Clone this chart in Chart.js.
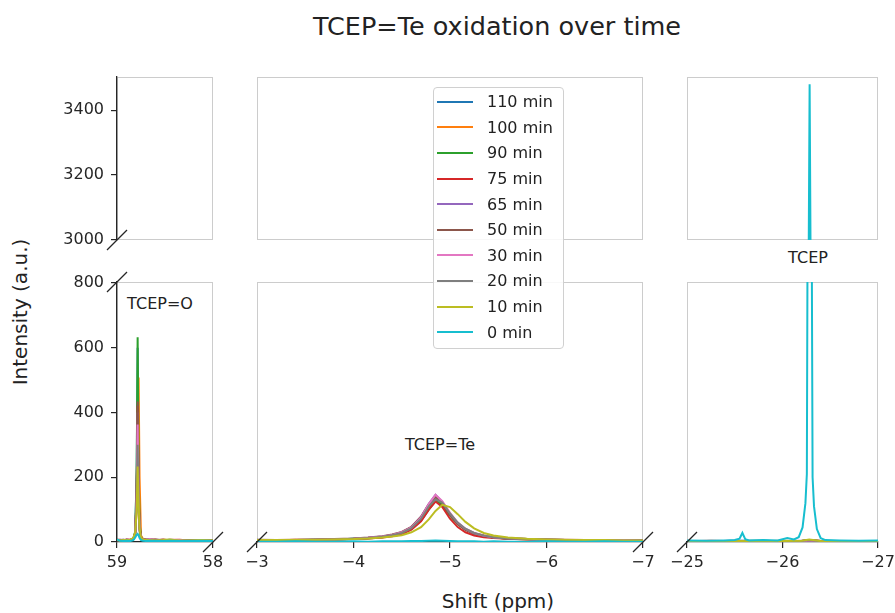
<!DOCTYPE html>
<html>
<head>
<meta charset="utf-8">
<script src="https://cdn.jsdelivr.net/npm/chart.js@4.4.1/dist/chart.umd.min.js"></script>
<style>
  body { margin: 0; background: #fff; font-family: 'DejaVu Sans', sans-serif; color: #222; }
  #wrap { position: relative; width: 895px; height: 613px; overflow: hidden; }
  .panel { position: absolute; }
  .txt { position: absolute; transform: translate(-50%, -50%); white-space: nowrap; line-height: 1; }
  #legend { position: absolute; left: 433px; top: 87px; width: 129px; height: 259px; border: 1px solid #d0d0d0;
            border-radius: 4px; background: rgba(255,255,255,0.85); z-index: 10; padding-top: 1px; box-sizing: content-box; }
  .row { display: flex; align-items: center; height: 25.6px; font-size: 16px; }
  .swatch { width: 36px; height: 2px; margin-left: 3px; margin-right: 14px; }
</style>
</head>
<body>
<div id="wrap">
  <div class="txt" style="left:497px;top:27px;font-size:25.5px">TCEP=Te oxidation over time</div>
  <div class="txt" style="left:20px;top:312px;font-size:20px;transform:translate(-50%,-50%) rotate(-90deg)">Intensity (a.u.)</div>
  <div class="txt" style="left:498px;top:601px;font-size:20px">Shift (ppm)</div>
  <div class="txt" style="left:160px;top:304px;font-size:16px">TCEP=O</div>
  <div class="txt" style="left:440px;top:445px;font-size:16px">TCEP=Te</div>
  <div class="txt" style="left:808px;top:258px;font-size:16px">TCEP</div>
  <div id="legend"></div>
</div>
<script>
// series, newest first (legend order)
const seriesNames = ['110 min', '100 min', '90 min', '75 min', '65 min', '50 min', '30 min', '20 min', '10 min', '0 min'];
const seriesColors = ['#1f77b4', '#ff7f0e', '#2ca02c', '#d62728', '#9467bd', '#8c564b', '#e377c2', '#7f7f7f', '#bcbd22', '#17becf'];

// TCEP=O region (58 - 59 ppm)
const oxideShift = [59.0, 58.97, 58.93, 58.9, 58.86, 58.83, 58.81, 58.795, 58.785, 58.775, 58.765, 58.75, 58.73, 58.7, 58.66, 58.6, 58.52, 58.45, 58.35, 58.25, 58.12, 58.0];
const oxideRows = [
  [6, 4, 5, 7, 6, 9, 30, 210, 600, 200, 50, 14, 9, 6, 5, 7, 5, 4, 6, 5, 4, 6],
  [5, 6, 4, 6, 8, 10, 25, 100, 300, 508, 200, 20, 10, 7, 6, 5, 8, 5, 4, 6, 5, 5],
  [7, 5, 6, 5, 7, 11, 32, 220, 632, 220, 60, 16, 8, 7, 9, 6, 5, 7, 5, 4, 6, 5],
  [6, 7, 5, 8, 6, 9, 28, 150, 420, 150, 45, 13, 9, 6, 7, 8, 5, 6, 7, 5, 4, 6],
  [5, 6, 7, 5, 6, 10, 26, 140, 400, 140, 40, 12, 8, 7, 5, 6, 7, 5, 6, 4, 5, 6],
  [8, 5, 6, 7, 5, 9, 28, 150, 434, 150, 42, 14, 9, 8, 6, 5, 7, 6, 5, 6, 5, 4],
  [6, 7, 5, 6, 8, 10, 24, 130, 363, 125, 38, 12, 8, 6, 9, 6, 5, 7, 6, 5, 6, 5],
  [5, 6, 7, 5, 6, 9, 22, 110, 300, 105, 33, 11, 7, 6, 5, 7, 6, 5, 4, 6, 5, 6],
  [7, 5, 6, 6, 7, 12, 30, 100, 233, 120, 40, 14, 8, 7, 6, 5, 6, 8, 5, 5, 6, 5],
  [8, 4, 3, 4, 3, 6, 14, 22, 25, 20, 12, 6, 4, 3, 4, 3, 3, 4, 3, 3, 4, 3]
];

// TCEP=Te region (-3 - -7 ppm)
const teShift = [-3.0, -3.2, -3.4, -3.6, -3.8, -4.0, -4.15, -4.3, -4.4, -4.5, -4.6, -4.7, -4.78, -4.85, -4.92, -5.0, -5.08, -5.16, -5.25, -5.35, -5.45, -5.6, -5.8, -6.0, -6.2, -6.4, -6.6, -6.8, -7.0];
const teRows = [
  [5, 6, 5, 7, 8, 10, 12, 16, 21, 29, 44, 74, 112, 138, 120, 84, 56, 38, 26, 19, 14, 11, 9, 7, 6, 6, 5, 6, 5],
  [6, 5, 6, 6, 8, 9, 12, 15, 20, 28, 42, 70, 106, 132, 118, 84, 57, 39, 27, 19, 14, 11, 8, 7, 6, 5, 6, 5, 5],
  [5, 6, 6, 7, 7, 10, 11, 15, 20, 27, 40, 66, 100, 128, 114, 82, 55, 38, 26, 18, 14, 10, 9, 7, 6, 6, 5, 5, 6],
  [6, 5, 7, 6, 8, 9, 11, 14, 18, 24, 38, 64, 100, 125, 108, 72, 46, 30, 20, 15, 12, 10, 8, 7, 6, 5, 6, 5, 5],
  [5, 6, 6, 7, 9, 10, 13, 17, 22, 30, 46, 78, 118, 146, 124, 86, 57, 39, 27, 19, 15, 11, 9, 7, 6, 6, 5, 5, 5],
  [7, 6, 6, 8, 9, 11, 14, 18, 23, 31, 47, 78, 116, 140, 120, 84, 56, 38, 26, 19, 14, 11, 9, 8, 6, 6, 6, 5, 6],
  [6, 6, 7, 7, 8, 10, 13, 17, 22, 30, 45, 76, 117, 146, 126, 90, 60, 41, 28, 20, 15, 12, 9, 7, 7, 6, 5, 6, 5],
  [5, 6, 6, 7, 8, 10, 12, 16, 21, 28, 43, 72, 110, 132, 122, 88, 60, 41, 28, 20, 15, 11, 9, 7, 6, 6, 5, 5, 5],
  [6, 6, 7, 7, 8, 9, 11, 14, 17, 21, 30, 46, 70, 96, 115, 108, 86, 62, 42, 28, 20, 14, 10, 8, 7, 6, 6, 5, 5],
  [1, 1, 2, 1, 1, 2, 1, 2, 2, 2, 3, 3, 4, 5, 4, 3, 2, 2, 2, 1, 2, 1, 1, 2, 1, 1, 2, 1, 1]
];

// TCEP region (-25 - -27 ppm): only the 0 min spectrum has the peak
const tcepShift = [-25.0, -25.2, -25.4, -25.5, -25.55, -25.58, -25.61, -25.65, -25.8, -25.95, -26.05, -26.12, -26.17, -26.21, -26.24, -26.255, -26.265, -26.275, -26.284, -26.293, -26.303, -26.315, -26.33, -26.36, -26.4, -26.45, -26.6, -26.8, -27.0];
const tcepZeroMin = [5, 4, 5, 6, 10, 28, 9, 5, 6, 5, 12, 8, 15, 45, 120, 210, 1200, 3000, 3480, 3000, 1200, 200, 110, 40, 12, 6, 5, 4, 5];
const flatShift = [-25.0, -25.25, -25.5, -25.75, -26.0, -26.2, -26.28, -26.4, -26.6, -26.8, -27.0];
const flatRows = [
  [3, 2, 4, 3, 2, 3, 5, 3, 2, 3, 2],
  [2, 3, 3, 2, 4, 3, 6, 2, 3, 2, 3],
  [3, 2, 3, 4, 2, 3, 5, 3, 2, 3, 2],
  [2, 4, 2, 3, 3, 2, 6, 3, 3, 2, 3],
  [3, 3, 2, 3, 2, 4, 5, 2, 3, 3, 2],
  [2, 3, 3, 2, 3, 3, 6, 3, 2, 2, 3],
  [3, 2, 4, 3, 3, 2, 5, 3, 3, 2, 2],
  [2, 3, 2, 3, 2, 3, 6, 2, 3, 3, 3],
  [3, 3, 3, 2, 3, 4, 8, 3, 2, 3, 2]
];

// axis ranges and ticks
const xRanges = [[58, 59], [-7, -3], [-27, -25]];
const xTicks = [[58, 59], [-7, -6, -5, -4, -3], [-27, -26, -25]];
const yTopRange = [3000, 3502];
const yTopTicks = [3000, 3200, 3400];
const yBotRange = [0, 803];
const yBotTicks = [0, 200, 400, 600, 800];

const FONT = "'DejaVu Sans', sans-serif";
const INK = '#262626';
const PAD = { l: 70, r: 30, t: 20, b: 40 };

const panels = [
  { col: 0, top: true,  x0: 117, x1: 213, y0: 77,  y1: 240, showY: true,  showX: false, breaks: ['bl'] },
  { col: 1, top: true,  x0: 257, x1: 643, y0: 77,  y1: 240, showY: false, showX: false, breaks: [] },
  { col: 2, top: true,  x0: 687, x1: 878, y0: 77,  y1: 240, showY: false, showX: false, breaks: [] },
  { col: 0, top: false, x0: 117, x1: 213, y0: 282, y1: 542, showY: true,  showX: true,  breaks: ['tl', 'br'] },
  { col: 1, top: false, x0: 257, x1: 643, y0: 282, y1: 542, showY: false, showX: true,  breaks: ['bl', 'br'] },
  { col: 2, top: false, x0: 687, x1: 878, y0: 282, y1: 542, showY: false, showX: true,  breaks: ['bl'] }
];

function pts(xs, ys) {
  return xs.map((x, i) => ({ x: x, y: ys[i] }));
}

function fmt(v) {
  return v < 0 ? '\u2212' + Math.abs(v) : String(v);
}

function datasetsFor(col) {
  return seriesNames.map((name, i) => {
    let data;
    if (col === 0) data = pts(oxideShift, oxideRows[i]);
    else if (col === 1) data = pts(teShift, teRows[i]);
    else data = i === 9 ? pts(tcepShift, tcepZeroMin) : pts(flatShift, flatRows[i]);
    return {
      label: name,
      data: data,
      borderColor: seriesColors[i],
      borderWidth: 2,
      pointRadius: 0,
      tension: 0,
      fill: false,
      order: seriesNames.length - 1 - i // later spectra drawn on top
    };
  });
}

const framePlugin = {
  id: 'frame',
  beforeDraw(chart, args, opts) {
    const a = chart.chartArea, ctx = chart.ctx;
    ctx.save();
    ctx.strokeStyle = '#cccccc';
    ctx.lineWidth = 1;
    ctx.strokeRect(Math.round(a.left) + 0.5, Math.round(a.top) + 0.5, Math.round(a.right - a.left) - 1, Math.round(a.bottom - a.top) - 1);
    ctx.restore();
  },
  afterDraw(chart, args, opts) {
    const a = chart.chartArea, ctx = chart.ctx, d = 10;
    ctx.save();
    ctx.strokeStyle = INK;
    ctx.lineWidth = 1.3;
    (opts.breaks || []).forEach(c => {
      const cx = c[1] === 'l' ? a.left : a.right;
      const cy = c[0] === 't' ? a.top : a.bottom;
      ctx.beginPath();
      ctx.moveTo(cx - d, cy + d);
      ctx.lineTo(cx + d, cy - d);
      ctx.stroke();
    });
    ctx.restore();
  }
};

const wrap = document.getElementById('wrap');

panels.forEach(p => {
  const cv = document.createElement('canvas');
  const w = p.x1 - p.x0 + PAD.l + PAD.r;
  const h = p.y1 - p.y0 + PAD.t + PAD.b;
  cv.width = w;
  cv.height = h;
  cv.className = 'panel';
  cv.style.left = (p.x0 - PAD.l) + 'px';
  cv.style.top = (p.y0 - PAD.t) + 'px';
  cv.style.width = w + 'px';
  cv.style.height = h + 'px';
  wrap.appendChild(cv);

  const yr = p.top ? yTopRange : yBotRange;
  const yt = p.top ? yTopTicks : yBotTicks;
  const xr = xRanges[p.col];
  const xt = xTicks[p.col];

  new Chart(cv, {
    type: 'line',
    data: { datasets: datasetsFor(p.col) },
    options: {
      responsive: false,
      animation: false,
      layout: {
        padding: { left: p.showY ? 0 : PAD.l, right: PAD.r, top: PAD.t, bottom: p.showX ? 0 : PAD.b }
      },
      plugins: {
        legend: { display: false },
        tooltip: { enabled: false },
        frame: { breaks: p.breaks }
      },
      scales: {
        x: {
          type: 'linear',
          reverse: true,
          min: xr[0],
          max: xr[1],
          display: p.showX,
          afterBuildTicks: s => { s.ticks = xt.map(v => ({ value: v })); },
          afterFit: s => { s.height = p.showX ? PAD.b : 0; },
          grid: { drawOnChartArea: false, drawTicks: true, tickLength: 6, color: INK, lineWidth: 1.2 },
          border: { display: true, color: INK, width: 1.3 },
          ticks: { font: { family: FONT, size: 16 }, color: INK, padding: 5, maxRotation: 0, callback: v => fmt(v) }
        },
        y: {
          type: 'linear',
          min: yr[0],
          max: yr[1],
          display: p.showY,
          afterBuildTicks: s => { s.ticks = yt.map(v => ({ value: v })); },
          afterFit: s => { s.width = p.showY ? PAD.l : 0; },
          grid: { drawOnChartArea: false, drawTicks: true, tickLength: 6, color: INK, lineWidth: 1.2 },
          border: { display: true, color: INK, width: 1.3 },
          ticks: { font: { family: FONT, size: 16 }, color: INK, padding: 7, callback: v => fmt(v) }
        }
      }
    },
    plugins: [framePlugin]
  });
});

// legend built from the series arrays
const leg = document.getElementById('legend');
seriesNames.forEach((name, i) => {
  const row = document.createElement('div');
  row.className = 'row';
  const sw = document.createElement('span');
  sw.className = 'swatch';
  sw.style.background = seriesColors[i];
  const label = document.createElement('span');
  label.textContent = name;
  row.appendChild(sw);
  row.appendChild(label);
  leg.appendChild(row);
});
</script>
</body>
</html>
